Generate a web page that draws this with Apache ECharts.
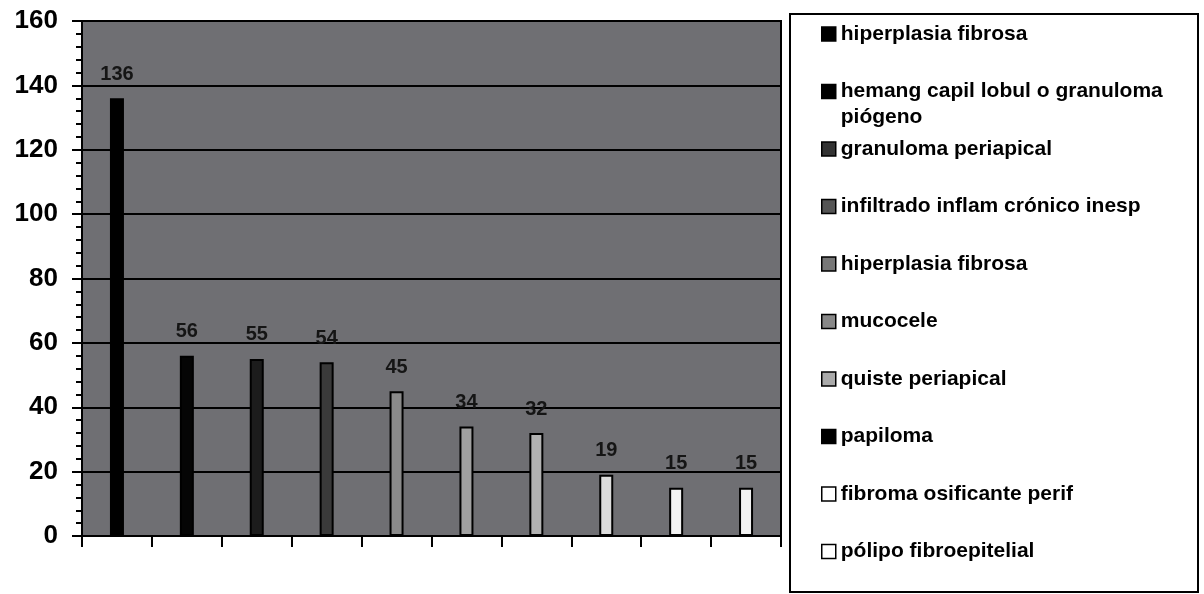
<!DOCTYPE html>
<html lang="es">
<head>
    <meta charset="UTF-8">
    <title>Diagnósticos</title>
    <script src="https://cdn.jsdelivr.net/npm/echarts@6/dist/echarts.min.js"></script>
    <style>
        html, body { margin: 0; padding: 0; background: #fff; }
        #main { width: 1204px; height: 594px; }
    </style>
</head>
<body>
    <div id="main"></div>
    <script>
        // categorias (leyenda) y valores de cada barra
        var categories = [
            'hiperplasia fibrosa',
            'hemang capil lobul o granuloma\npiógeno',
            'granuloma periapical',
            'infiltrado inflam crónico inesp',
            'hiperplasia fibrosa',
            'mucocele',
            'quiste periapical',
            'papiloma',
            'fibroma osificante perif',
            'pólipo fibroepitelial'
        ];
        var values = [136, 56, 55, 54, 45, 34, 32, 19, 15, 15];
        var yTicks = [0, 20, 40, 60, 80, 100, 120, 140, 160];

        var barColors = ['#000000', '#050505', '#1c1c1c', '#3a3a3a', '#8a8a8a',
                         '#a0a0a0', '#b2b2b2', '#dcdcdc', '#f2f2f2', '#f2f2f2'];
        var legendColors = ['#000000', '#000000', '#333333', '#555555', '#777777',
                            '#888888', '#aaaaaa', '#000000', '#ffffff', '#ffffff'];

        var series = categories.map(function (c, i) {
            return {
                name: 'item' + i,
                type: 'bar',
                barWidth: 14,
                barGap: '-100%',
                data: values.map(function (v, j) { return j === i ? v : '-'; }),
                itemStyle: {
                    color: barColors[i],
                    borderColor: '#000',
                    borderWidth: 2
                },
                label: {
                    show: true,
                    position: 'top',
                    distance: 14,
                    color: '#151515',
                    fontFamily: 'Liberation Sans',
                    fontSize: 20,
                    fontWeight: 'bold'
                }
            };
        });

        var legendData = categories.map(function (c, i) {
            return {
                name: 'item' + i,
                itemStyle: { color: legendColors[i], borderColor: '#000', borderWidth: 1.5 }
            };
        });

        var option = {
            animation: false,
            grid: {
                left: 82, right: 423, top: 21, bottom: 58,
                show: true,
                backgroundColor: '#6f6f73',
                borderColor: '#000',
                borderWidth: 2
            },
            xAxis: {
                type: 'category',
                data: categories,
                axisLine: { show: true, lineStyle: { color: '#000', width: 2 } },
                axisTick: { show: true, alignWithLabel: false, interval: 0, length: 11, lineStyle: { color: '#000', width: 2 } },
                axisLabel: { show: false, interval: 0 }
            },
            yAxis: {
                type: 'value',
                min: yTicks[0],
                max: yTicks[yTicks.length - 1],
                interval: 20,
                axisLine: { show: true, lineStyle: { color: '#000', width: 2 } },
                axisTick: { show: true, length: 10, lineStyle: { color: '#000', width: 2 } },
                minorTick: { show: true, splitNumber: 5, length: 6, lineStyle: { color: '#000', width: 2 } },
                splitLine: { lineStyle: { color: '#000', width: 2 } },
                axisLabel: {
                    margin: 24,
                    color: '#000',
                    fontFamily: 'Liberation Sans',
                    fontSize: 26,
                    fontWeight: 'bold'
                }
            },
            legend: {
                orient: 'vertical',
                left: 821,
                top: -5,
                height: 800,
                padding: 0,
                itemGap: -20.5,
                itemWidth: 14,
                itemHeight: 14,
                icon: 'rect',
                data: legendData,
                formatter: function (name) {
                    var lines = categories[+name.slice(4)].split('\n');
                    // linea vacia arriba para alinear el primer renglon con el icono
                    return '\n' + lines[0] + '\n' + (lines[1] || '');
                },
                textStyle: {
                    color: '#000',
                    fontFamily: 'Liberation Sans',
                    fontSize: 21,
                    fontWeight: 'bold',
                    lineHeight: 26
                }
            },
            graphic: [{
                type: 'rect',
                z: 0,
                shape: { x: 790, y: 14, width: 408, height: 578 },
                style: { fill: 'none', stroke: '#000', lineWidth: 2 }
            }],
            series: series
        };

        var myChart = echarts.init(document.getElementById('main'));
        myChart.setOption(option);
    </script>
</body>
</html>
